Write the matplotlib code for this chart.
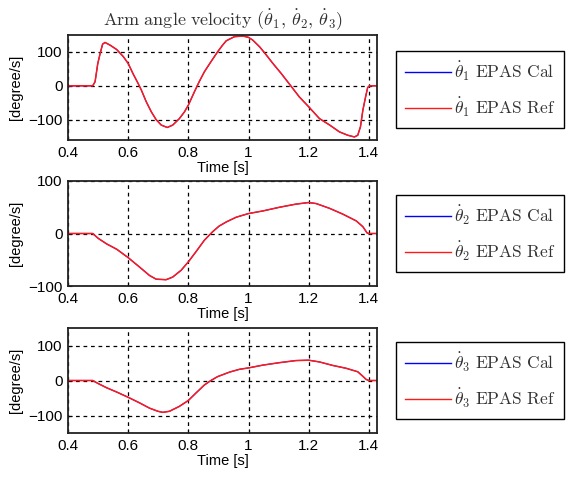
import matplotlib
matplotlib.use("Agg")
import matplotlib.pyplot as plt

plt.rcParams['mathtext.fontset'] = 'cm'
plt.rcParams['font.family'] = ['Liberation Sans', 'DejaVu Sans']

# ---- data ----
t1 = [0.40, 0.482, 0.49, 0.499, 0.507, 0.515, 0.523, 0.54, 0.562, 0.584, 0.60,
      0.616, 0.633, 0.644, 0.66, 0.677, 0.693, 0.71, 0.73, 0.748, 0.77, 0.787,
      0.80, 0.82, 0.836, 0.853, 0.875, 0.897, 0.912, 0.926, 0.953, 0.981, 1.00,
      1.014, 1.037, 1.059, 1.081, 1.109, 1.136, 1.169, 1.20, 1.236, 1.27, 1.302,
      1.33, 1.352, 1.363, 1.372, 1.38, 1.389, 1.396, 1.402, 1.427]
v1_ref = [0, 0, 12, 66, 96, 123, 128, 120, 107, 86, 66,
          36, 7, -13, -47, -77, -100, -116, -123, -116, -97, -77,
          -57, -18, 12, 41, 71, 100, 118, 133, 145, 147, 143,
          135, 115, 91, 66, 36, 5, -33, -62, -97, -116, -136,
          -146, -151, -146, -121, -72, -33, -5, 0, 0]
v1_cal = list(v1_ref)

t2 = [0.40, 0.482, 0.501, 0.529, 0.562, 0.60, 0.638, 0.671, 0.693, 0.726, 0.748,
      0.776, 0.80, 0.825, 0.853, 0.88, 0.902, 0.926, 0.959, 1.00, 1.048, 1.103,
      1.158, 1.20, 1.225, 1.269, 1.313, 1.358, 1.38, 1.394, 1.40, 1.427]
v2_ref = [0, 0, -9.5, -20, -30, -46, -64, -80, -87, -88, -83,
          -70, -54, -35, -13, 3, 14, 22, 31, 38, 43, 50,
          56, 59, 57, 48, 37, 24, 13, 1, 0, 0]
v2_cal = list(v2_ref)

t3 = [0.40, 0.482, 0.501, 0.529, 0.562, 0.60, 0.638, 0.671, 0.699, 0.715, 0.737,
      0.77, 0.80, 0.825, 0.853, 0.875, 0.897, 0.937, 0.97, 1.00, 1.048, 1.103,
      1.158, 1.20, 1.236, 1.28, 1.324, 1.363, 1.38, 1.391, 1.40, 1.427]
v3_ref = [0, 0, -9, -21, -33, -48, -64, -79, -88, -91, -88,
          -74, -57, -36, -13, 0, 11, 24, 32, 36, 44, 51,
          57, 58, 53, 43, 35, 25, 12, 3, 0, 0]
v3_cal = list(v3_ref)

xticks = [0.4, 0.6, 0.8, 1.0, 1.2, 1.4]
xticklabels = ['0.4', '0.6', '0.8', '1', '1.2', '1.4']
ylims = [(-160, 150), (-100, 100), (-150, 150)]
yticks = [[-100, 0, 100], [-100, 0, 100], [-100, 0, 100]]

W, H = 571, 478
fig = plt.figure(figsize=(W / 100, H / 100), dpi=100)

boxes = [(68, 35, 377, 140), (68, 181, 377, 286), (68, 328, 377, 433)]
leg_tops = [51, 195, 342]
series = [(t1, v1_cal, v1_ref), (t2, v2_cal, v2_ref), (t3, v3_cal, v3_ref)]

for i in range(3):
    l, tp, r, b = boxes[i]
    ax = fig.add_axes([l / W, 1 - b / H, (r - l) / W, (b - tp) / H])
    t, vc, vr = series[i]
    ax.plot(t, vc, color='blue', lw=0.8, label=r'$\dot{\theta}_%d\ \mathrm{EPAS\ Cal}$' % (i + 1))
    ax.plot(t, vr, color='#ff1a1a', lw=1.1, label=r'$\dot{\theta}_%d\ \mathrm{EPAS\ Ref}$' % (i + 1))
    ax.set_xlim(0.4, 1.427)
    ax.set_ylim(*ylims[i])
    ax.set_xticks(xticks)
    ax.set_xticklabels(xticklabels)
    ax.set_yticks(yticks[i])
    ax.tick_params(direction='in', length=3, labelsize=11, pad=4, colors='black')
    ax.grid(True, color='black', linestyle=(0, (3, 3)), linewidth=0.9)
    for s in ax.spines.values():
        s.set_linewidth(1.3)
        s.set_color('#222222')
    ax.set_xlabel('Time [s]', fontsize=10.5, labelpad=1)
    ax.set_ylabel('[degree/s]', fontsize=10.5, labelpad=4)
    leg = ax.legend(loc='upper left', bbox_to_anchor=(396 / W, 1 - leg_tops[i] / H),
                    bbox_transform=fig.transFigure, fontsize=12.5, fancybox=False,
                    framealpha=1, edgecolor='black', handlelength=2.65,
                    handletextpad=0.2, labelspacing=0.75, borderpad=0.5,
                    borderaxespad=0)
    leg.get_frame().set_linewidth(1.0)
    for h in leg.get_lines():
        h.set_linewidth(1.0)
    for txt in leg.get_texts():
        txt.set_color('#333333')
    if i == 0:
        ax.set_title(r'$\mathrm{Arm\ angle\ velocity}\ (\dot{\theta}_1,\,\dot{\theta}_2,\,\dot{\theta}_3)$',
                     fontsize=13, pad=7, color='#333333')

fig.savefig('out.png', dpi=100)
